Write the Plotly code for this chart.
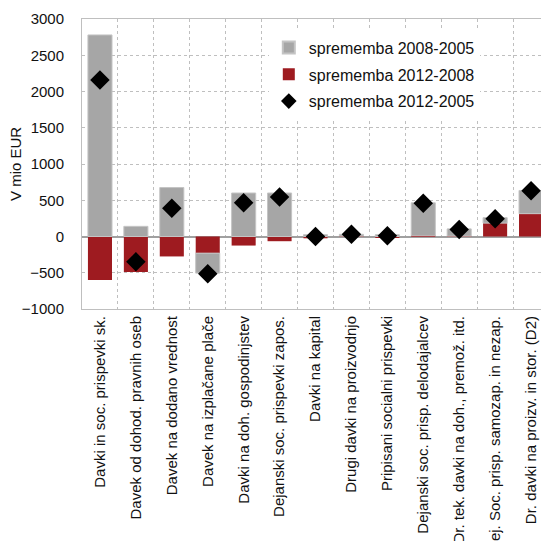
import plotly.graph_objects as go

categories = [
    "Davki in soc. prispevki sk.",
    "Davek od dohod. pravnih oseb",
    "Davek na dodano vrednost",
    "Davek na izplačane plače",
    "Davki na doh. gospodinjstev",
    "Dejanski soc. prispevki zapos.",
    "Davki na kapital",
    "Drugi davki na proizvodnjo",
    "Pripisani socialni prispevki",
    "Dejanski soc. prisp. delodajalcev",
    "Dr. tek. davki na doh., premož. itd.",
    "Dej. Soc. prisp. samozap. in nezap.",
    "Dr. davki na proizv. in stor. (D2)",
]
change_2008_2005 = [2780, 140, 675, -275, 600, 600, 25, 25, 25, 455, 100, 75, 320]
change_2012_2008 = [-600, -490, -275, -230, -125, -65, -25, 5, -15, 10, 5, 185, 315]
change_2012_2005 = [2160, -350, 390, -515, 465, 545, 0, 30, 10, 460, 95, 245, 630]

GRAY = "#a6a6a6"
RED = "#9e1b20"
FONT = "Liberation Sans"

fig = go.Figure()
# red stacks first (next to zero), legend still lists gray first
fig.add_trace(go.Bar(x=categories, y=change_2012_2008, name="sprememba 2012-2008",
                     marker=dict(color=RED, line=dict(width=0)),
                     legendrank=2, legendgroup="b"))
fig.add_trace(go.Bar(x=categories, y=change_2008_2005, name="sprememba 2008-2005",
                     marker=dict(color=GRAY, line=dict(color="#c4c4c4", width=1)),
                     legendrank=1, legendgroup="a"))
fig.add_trace(go.Scatter(x=categories, y=change_2012_2005, name="sprememba 2012-2005",
                         mode="markers", legendrank=3, legendgroup="c",
                         marker=dict(symbol="diamond", size=15, color="black")))

# page body adds 8px on top/left, margins are set with that in mind
fig.update_layout(
    barmode="relative",
    bargap=0.33,
    width=549,
    height=541,
    margin=dict(l=74, r=8, t=11, b=240, autoexpand=False),
    paper_bgcolor="white",
    plot_bgcolor="white",
    font=dict(family=FONT, size=15, color="#111111"),
    legend=dict(x=0.40, y=0.96, xanchor="left", yanchor="top",
                bgcolor="white", font=dict(size=16), itemwidth=30,
                itemsizing="constant", tracegroupgap=3),
)
fig.add_annotation(text="V mio EUR", xref="paper", yref="paper",
                   x=-67 / 467, y=0.5, xanchor="center", yanchor="middle",
                   textangle=-90, showarrow=False, font=dict(size=15))
fig.update_yaxes(
    range=[-1000, 3000], dtick=500,
    showgrid=True, gridcolor="#bfbfbf", griddash="dot", gridwidth=1,
    zeroline=True, zerolinecolor="#a0a0a0", zerolinewidth=1.5,
    showline=True, linecolor="#bfbfbf", mirror=True,
    ticks="", ticklabelstandoff=14, tickfont=dict(size=15), automargin=False,
)
fig.update_xaxes(
    range=[-0.5, 12.5], tickangle=-90, tickson="boundaries",
    showgrid=True, gridcolor="#bfbfbf", griddash="dot", gridwidth=1,
    showline=True, linecolor="#bfbfbf", mirror=True,
    ticks="", tickfont=dict(size=15), automargin=False,
)

fig.write_html("out.html")
